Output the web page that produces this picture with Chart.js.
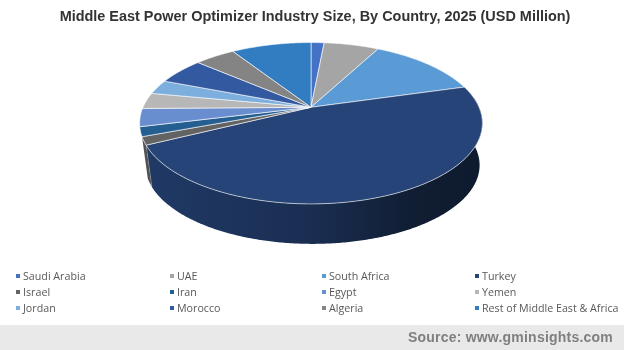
<!DOCTYPE html>
<html>
<head>
<meta charset="utf-8">
<title>Middle East Power Optimizer Industry Size</title>
<script src="https://cdn.jsdelivr.net/npm/chart.js@4"></script>
<style>
  html, body { margin: 0; padding: 0; background: #fff; }
  #wrap { position: relative; width: 624px; height: 350px; overflow: hidden; }
  #pie { position: absolute; left: 0; top: 0; }
  .item { position: absolute; font: 10.7px "Open Sans", sans-serif; color: #595959; white-space: nowrap; line-height: 14px; }
  .item i { position: absolute; left: -7px; top: 5px; width: 4px; height: 4px; }
  #band { position: absolute; left: 0; top: 325px; width: 624px; height: 25px; background: #e9e9e9; }
  #source { position: absolute; right: 11px; top: 4px; font: bold 14px "Liberation Sans", Arial, sans-serif; color: #7f7f7f; letter-spacing: 0.22px; }
</style>
</head>
<body>
<div id="wrap">
  <canvas id="pie" width="624" height="350"></canvas>
  <div id="legend"></div>
  <div id="band"><div id="source">Source: www.gminsights.com</div></div>
</div>
<script>
var categories = ['Saudi Arabia', 'UAE', 'South Africa', 'Turkey', 'Israel', 'Iran', 'Egypt', 'Yemen', 'Jordan', 'Morocco', 'Algeria', 'Rest of Middle East & Africa'];
// share of the pie (no values printed on the chart)
var shares = [1.5, 6.25, 12.8, 47, 1.6, 1.9, 3.6, 3.2, 2.9, 5.4, 4.6, 9.1];
var colors = ['#4472c4', '#a5a5a5', '#5b9bd5', '#264478', '#636363', '#255e91', '#698ed0', '#b7b7b7', '#7cafdd', '#335aa1', '#848484', '#327dc2'];
var legendX = [23, 177, 329, 482];
var legendY = [269, 285, 301];

// camera used to tilt the pie
var view = { dx: -4, xs: 2.184, ys: 1.008, k: 0.1975, depth: 42.4, bottom: 0.975, lowerDx: 1.5 };

function project(el, theta, lower) {
  var u = Math.sin(theta), v = -Math.cos(theta);
  var w = 1 - view.k * v;
  var s = lower ? view.bottom : 1;
  return {
    x: el.x + view.dx + (lower ? view.lowerDx : 0) + el.outerRadius * view.xs * s * u / w,
    y: el.y + (lower ? view.depth : 0) + el.outerRadius * view.ys * s * v / w
  };
}

function rim(el, lower) {
  // chart.js angles start at 3 o'clock
  var a = el.startAngle + Math.PI / 2, b = el.endAngle + Math.PI / 2;
  var n = Math.max(2, Math.ceil((b - a) / 0.01));
  var pts = [];
  for (var i = 0; i <= n; i++) {
    pts.push(project(el, a + (b - a) * i / n, lower));
  }
  return pts;
}

function shade(hex, f) {
  var r = parseInt(hex.substr(1, 2), 16), g = parseInt(hex.substr(3, 2), 16), b = parseInt(hex.substr(5, 2), 16);
  return 'rgb(' + Math.round(r * f) + ',' + Math.round(g * f) + ',' + Math.round(b * f) + ')';
}

var pie3d = {
  id: 'pie3d',
  beforeDatasetDraw: function(chart, args) {
    var ctx = chart.ctx;
    var arcs = args.meta.data;
    ctx.save();
    ctx.lineJoin = 'round';

    // walls first, only slices ending on the front have one
    arcs.forEach(function(el, i) {
      var front = -Math.cos(el.endAngle + Math.PI / 2);
      if (front < 0.3) return;
      var top = rim(el, false), low = rim(el, true).reverse();
      var grad = ctx.createLinearGradient(139, 0, 483, 0);
      grad.addColorStop(0, shade(colors[i], 0.85));
      grad.addColorStop(0.5, shade(colors[i], 0.68));
      grad.addColorStop(0.8, shade(colors[i], 0.42));
      grad.addColorStop(1, shade(colors[i], 0.38));
      ctx.beginPath();
      top.concat(low).forEach(function(p, j) { j ? ctx.lineTo(p.x, p.y) : ctx.moveTo(p.x, p.y); });
      ctx.closePath();
      ctx.fillStyle = grad;
      ctx.fill();
      // light seam on the wall
      if (front > 0.4) {
        ctx.beginPath();
        ctx.moveTo(top[top.length - 1].x, top[top.length - 1].y);
        ctx.lineTo(low[0].x, low[0].y);
        ctx.lineWidth = 0.7;
        ctx.strokeStyle = 'rgba(255,255,255,0.55)';
        ctx.stroke();
      }
    });

    arcs.forEach(function(el, i) {
      ctx.beginPath();
      ctx.moveTo(el.x + view.dx, el.y);
      rim(el, false).forEach(function(p) { ctx.lineTo(p.x, p.y); });
      ctx.closePath();
      ctx.fillStyle = colors[i];
      ctx.fill();
      ctx.lineWidth = 0.8;
      ctx.strokeStyle = 'rgba(255,255,255,0.75)';
      ctx.stroke();
    });
    ctx.restore();
    return false;
  }
};

new Chart(document.getElementById('pie'), {
  type: 'pie',
  data: {
    labels: categories,
    datasets: [{ data: shares, backgroundColor: colors, borderWidth: 0 }]
  },
  options: {
    responsive: false,
    animation: false,
    layout: { padding: { left: 6, bottom: 165.8 } },
    plugins: {
      legend: { display: false },
      tooltip: { enabled: false },
      title: {
        display: true,
        fullSize: false,
        text: 'Middle East Power Optimizer Industry Size, By Country, 2025 (USD Million)',
        color: '#333333',
        font: { family: '"Liberation Sans", Arial, sans-serif', size: 14.45, weight: 'bold' },
        padding: { top: 8, bottom: 5 }
      }
    }
  },
  plugins: [pie3d]
});

// legend as a four column grid, same order as the slices
var box = document.getElementById('legend');
categories.forEach(function(name, i) {
  var item = document.createElement('div');
  item.className = 'item';
  item.style.left = legendX[i % 4] + 'px';
  item.style.top = legendY[Math.floor(i / 4)] + 'px';
  item.innerHTML = '<i style="background:' + colors[i] + '"></i>';
  item.appendChild(document.createTextNode(name));
  box.appendChild(item);
});
</script>
</body>
</html>
